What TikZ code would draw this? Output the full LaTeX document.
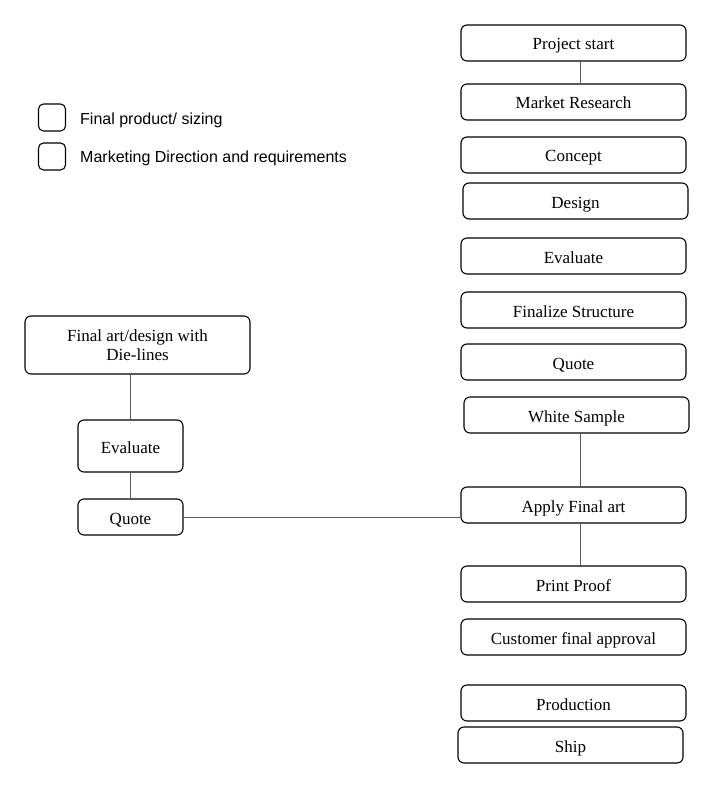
\documentclass[tikz,border=0pt]{standalone}
\usepackage{fontspec}
\setmainfont{Liberation Serif}
\newfontfamily\legfont{Liberation Sans}
\begin{document}
\begin{tikzpicture}[x=1pt,y=-1pt,
  basebox/.style={draw=black,rounded corners=6pt,line width=1.1pt,minimum width=225pt,minimum height=36pt,inner sep=0pt,font=\fontsize{17}{19}\selectfont,align=center},
  stepbox/.style={basebox,text height=14pt,text depth=0pt},
  legbox/.style={draw=black,rounded corners=5pt,line width=1.1pt,minimum width=27pt,minimum height=27pt,inner sep=0pt},
  legtext/.style={anchor=west,font=\legfont\fontsize{16}{18}\selectfont,inner sep=0pt},
  conn/.style={draw=black!65,line width=1pt}]
\useasboundingbox (0,0) rectangle (716,786);
\fill[white] (0,0) rectangle (716,786);
% right column
\node[stepbox] (ps) at (573.5,43) {Project start};
\node[stepbox] (mr) at (573.5,102) {Market Research};
\node[stepbox] (co) at (573.5,155) {Concept};
\node[stepbox] (de) at (575.5,201) {Design};
\node[stepbox] (ev) at (573.5,256) {Evaluate};
\node[stepbox] (fs) at (573.5,310) {Finalize Structure};
\node[stepbox] (qu) at (573.5,362) {Quote};
\node[stepbox] (ws) at (576.5,415) {White Sample};
\node[stepbox] (af) at (573.5,505) {Apply Final art};
\node[stepbox] (pp) at (573.5,584) {Print Proof};
\node[stepbox] (cf) at (573.5,637) {Customer final approval};
\node[stepbox] (pr) at (573.5,703) {Production};
\node[stepbox] (sh) at (570.5,745) {Ship};
% left column
\node[basebox,minimum height=58pt] (fa) at (137.5,345) {Final art/design with\\Die-lines};
\node[stepbox,minimum width=105pt,minimum height=52pt] (le) at (130.5,446) {Evaluate};
\node[stepbox,minimum width=105pt] (lq) at (130.5,517) {Quote};
% legend
\node[legbox] (l1) at (52,117.5) {};
\node[legtext] (t1) at (80,120.5) {Final product/ sizing};
\node[legbox] (l2) at (52,156.5) {};
\node[legtext] (t2) at (80,158.5) {Marketing Direction and requirements};
% connectors
\draw[conn] (ps.south -| 580,0) -- (mr.north -| 580,0);
\draw[conn] (ws.south -| 580,0) -- (af.north -| 580,0);
\draw[conn] (af.south -| 580,0) -- (pp.north -| 580,0);
\draw[conn] (fa.south -| le.north) -- (le.north);
\draw[conn] (le.south) -- (lq.north);
\draw[conn] (lq.east) -- (lq.east -| af.west);
\end{tikzpicture}
\end{document}
